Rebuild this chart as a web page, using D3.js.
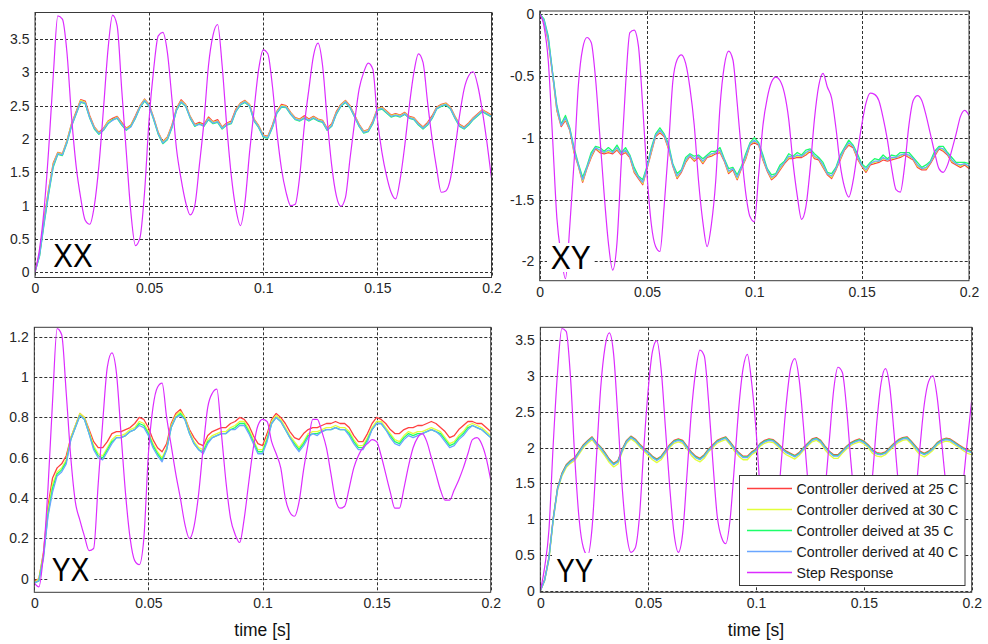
<!DOCTYPE html>
<html><head><meta charset="utf-8">
<script src="https://cdn.jsdelivr.net/npm/d3@7"></script>
<style>body{margin:0;background:#fff}svg{display:block}</style>
</head><body>
<svg id="chart" width="988" height="644"></svg>
<script>
// sample times (s), one sample every 2 ms from 0 to 0.2 s
const timeSamples = d3.range(101).map(i => i * 0.002);
const seriesNames = ["Controller derived at 25 C","Controller derived at 30 C","Controller deived at 35 C","Controller derived at 40 C","Step Response"];
const seriesColors = ["#ff4040","#e2ff3a","#1cff6a","#6aa6ff","#dc2cff"];
const xTicks = [0, 0.05, 0.1, 0.15, 0.2];
const xxTicks = [0,0.5,1,1.5,2,2.5,3,3.5];
const xyTicks = [-2,-1.5,-1,-0.5,0];
const yxTicks = [0,0.2,0.4,0.6,0.8,1,1.2];
const yyTicks = [0,0.5,1,1.5,2,2.5,3,3.5];
const panelNames = ["XX","XY","YX","YY"];

// ---- XX ----
const xx25 = [0.00,0.28,0.80,1.25,1.64,1.80,1.78,1.98,2.23,2.41,
2.59,2.57,2.35,2.18,2.10,2.16,2.27,2.31,2.34,2.25,
2.16,2.21,2.35,2.50,2.60,2.52,2.32,2.10,1.96,2.03,
2.21,2.46,2.59,2.52,2.34,2.22,2.25,2.22,2.33,2.26,
2.29,2.18,2.24,2.27,2.45,2.54,2.58,2.52,2.30,2.20,
2.06,2.04,2.21,2.42,2.52,2.50,2.40,2.32,2.30,2.35,
2.30,2.34,2.30,2.28,2.16,2.23,2.41,2.52,2.58,2.50,
2.36,2.22,2.12,2.14,2.27,2.46,2.48,2.42,2.36,2.38,
2.36,2.40,2.34,2.32,2.24,2.18,2.25,2.35,2.48,2.52,
2.54,2.48,2.34,2.22,2.18,2.24,2.32,2.38,2.44,2.40,2.36];
const xx30 = [0.00,0.27,0.78,1.23,1.62,1.79,1.77,1.97,2.22,2.39,
2.58,2.55,2.33,2.17,2.09,2.15,2.26,2.29,2.33,2.23,
2.15,2.20,2.33,2.49,2.59,2.51,2.31,2.09,1.95,2.02,
2.19,2.45,2.57,2.51,2.33,2.21,2.23,2.21,2.31,2.25,
2.27,2.17,2.23,2.25,2.43,2.53,2.57,2.51,2.29,2.19,
2.05,2.03,2.19,2.41,2.50,2.49,2.39,2.31,2.29,2.33,
2.29,2.33,2.29,2.27,2.15,2.21,2.39,2.51,2.57,2.49,
2.35,2.21,2.11,2.13,2.25,2.45,2.47,2.41,2.35,2.37,
2.35,2.39,2.33,2.31,2.23,2.17,2.23,2.33,2.47,2.51,
2.53,2.47,2.33,2.21,2.17,2.23,2.31,2.37,2.43,2.39,2.35];
const xx35 = [0.00,0.24,0.73,1.18,1.58,1.77,1.75,1.94,2.19,2.37,
2.55,2.53,2.31,2.15,2.07,2.13,2.23,2.29,2.31,2.21,
2.13,2.19,2.31,2.47,2.57,2.49,2.29,2.07,1.93,1.99,
2.17,2.43,2.55,2.49,2.31,2.19,2.23,2.19,2.29,2.23,
2.25,2.15,2.21,2.23,2.41,2.51,2.55,2.49,2.27,2.17,
2.03,2.01,2.17,2.39,2.48,2.47,2.37,2.29,2.27,2.31,
2.27,2.31,2.27,2.25,2.13,2.19,2.37,2.49,2.55,2.47,
2.33,2.19,2.09,2.11,2.23,2.43,2.45,2.39,2.33,2.35,
2.33,2.37,2.31,2.29,2.21,2.15,2.21,2.31,2.45,2.49,
2.51,2.45,2.31,2.19,2.15,2.21,2.29,2.35,2.41,2.37,2.33];
const xx40 = [0.00,0.25,0.75,1.20,1.60,1.78,1.76,1.95,2.20,2.38,
2.56,2.54,2.32,2.16,2.08,2.14,2.24,2.28,2.32,2.22,
2.14,2.18,2.32,2.48,2.58,2.50,2.30,2.08,1.94,2.00,
2.18,2.44,2.56,2.50,2.32,2.20,2.22,2.20,2.30,2.24,
2.26,2.16,2.22,2.24,2.42,2.52,2.56,2.50,2.28,2.18,
2.04,2.02,2.18,2.40,2.49,2.48,2.38,2.30,2.28,2.32,
2.28,2.32,2.28,2.26,2.14,2.20,2.38,2.50,2.56,2.48,
2.34,2.20,2.10,2.12,2.24,2.44,2.46,2.40,2.34,2.36,
2.34,2.38,2.32,2.30,2.22,2.16,2.22,2.32,2.46,2.50,
2.52,2.46,2.32,2.20,2.16,2.22,2.30,2.36,2.42,2.38,2.34];
const xxStep = [0.00,0.35,0.95,1.85,2.95,3.85,3.80,3.30,2.34,1.60,
1.12,0.78,0.72,1.00,1.60,2.45,3.35,3.86,3.70,2.74,
1.80,0.90,0.40,0.52,1.20,2.30,3.05,3.55,3.60,3.30,
2.60,1.85,1.40,1.05,0.86,1.00,1.60,2.25,3.10,3.56,
3.72,3.10,2.20,1.45,0.95,0.70,1.05,1.80,2.45,3.05,
3.34,3.28,2.80,2.10,1.55,1.20,1.00,1.02,1.45,2.20,
2.75,3.25,3.44,3.10,2.30,1.60,1.15,0.99,1.12,1.70,
2.25,2.75,3.00,3.14,3.05,2.30,1.80,1.45,1.20,1.10,
1.40,1.90,2.50,3.00,3.28,3.15,2.55,2.00,1.55,1.20,
1.22,1.40,1.85,2.35,2.75,2.95,3.01,2.80,2.42,1.95,1.41];

// ---- XY ----
const xy25 = [0.00,-0.06,-0.22,-0.49,-0.78,-0.91,-0.86,-0.94,-1.12,-1.23,
-1.36,-1.25,-1.16,-1.09,-1.12,-1.13,-1.12,-1.13,-1.10,-1.14,
-1.12,-1.16,-1.28,-1.33,-1.38,-1.25,-1.12,-0.99,-0.96,-0.99,
-1.09,-1.23,-1.33,-1.28,-1.20,-1.15,-1.19,-1.16,-1.21,-1.16,
-1.15,-1.13,-1.12,-1.19,-1.29,-1.26,-1.34,-1.25,-1.17,-1.06,
-1.04,-1.06,-1.18,-1.27,-1.34,-1.31,-1.26,-1.21,-1.17,-1.17,
-1.16,-1.16,-1.14,-1.11,-1.17,-1.18,-1.24,-1.30,-1.33,-1.26,
-1.18,-1.10,-1.06,-1.08,-1.17,-1.23,-1.28,-1.22,-1.21,-1.20,
-1.18,-1.19,-1.18,-1.17,-1.16,-1.14,-1.16,-1.18,-1.24,-1.26,
-1.26,-1.21,-1.15,-1.09,-1.11,-1.14,-1.20,-1.22,-1.24,-1.22,-1.25];
const xy30 = [0.00,-0.05,-0.21,-0.48,-0.77,-0.90,-0.85,-0.93,-1.11,-1.22,
-1.35,-1.24,-1.15,-1.08,-1.11,-1.12,-1.11,-1.12,-1.09,-1.13,
-1.11,-1.15,-1.27,-1.32,-1.37,-1.24,-1.11,-0.98,-0.95,-0.98,
-1.08,-1.22,-1.32,-1.27,-1.19,-1.14,-1.18,-1.15,-1.20,-1.15,
-1.14,-1.12,-1.11,-1.18,-1.28,-1.25,-1.33,-1.24,-1.16,-1.05,
-1.03,-1.05,-1.17,-1.26,-1.33,-1.30,-1.25,-1.20,-1.16,-1.16,
-1.15,-1.15,-1.13,-1.10,-1.16,-1.17,-1.23,-1.29,-1.32,-1.25,
-1.17,-1.09,-1.05,-1.07,-1.16,-1.22,-1.27,-1.21,-1.20,-1.19,
-1.17,-1.18,-1.17,-1.16,-1.15,-1.13,-1.15,-1.17,-1.23,-1.25,
-1.25,-1.20,-1.14,-1.08,-1.10,-1.13,-1.19,-1.21,-1.23,-1.21,-1.24];
const xy35 = [0.00,-0.04,-0.18,-0.47,-0.74,-0.89,-0.82,-0.92,-1.08,-1.21,
-1.32,-1.23,-1.12,-1.07,-1.08,-1.11,-1.08,-1.11,-1.06,-1.12,
-1.08,-1.14,-1.24,-1.31,-1.34,-1.23,-1.08,-0.97,-0.92,-0.97,
-1.05,-1.21,-1.29,-1.26,-1.16,-1.13,-1.15,-1.14,-1.17,-1.14,
-1.11,-1.11,-1.08,-1.17,-1.25,-1.24,-1.30,-1.23,-1.13,-1.04,
-1.00,-1.04,-1.14,-1.25,-1.30,-1.29,-1.22,-1.19,-1.13,-1.15,
-1.12,-1.14,-1.10,-1.09,-1.13,-1.16,-1.20,-1.28,-1.29,-1.24,
-1.14,-1.08,-1.02,-1.06,-1.13,-1.21,-1.24,-1.20,-1.17,-1.18,
-1.14,-1.17,-1.14,-1.15,-1.12,-1.12,-1.12,-1.16,-1.20,-1.24,
-1.22,-1.19,-1.11,-1.07,-1.07,-1.12,-1.16,-1.20,-1.20,-1.20,-1.21];
const xy40 = [0.00,-0.05,-0.20,-0.48,-0.76,-0.90,-0.84,-0.93,-1.10,-1.22,
-1.34,-1.24,-1.14,-1.08,-1.10,-1.12,-1.10,-1.12,-1.08,-1.13,
-1.10,-1.15,-1.26,-1.32,-1.36,-1.24,-1.10,-0.98,-0.94,-0.98,
-1.07,-1.22,-1.31,-1.27,-1.18,-1.14,-1.17,-1.15,-1.19,-1.15,
-1.13,-1.12,-1.10,-1.18,-1.27,-1.25,-1.32,-1.24,-1.15,-1.05,
-1.02,-1.05,-1.16,-1.26,-1.32,-1.30,-1.24,-1.20,-1.15,-1.16,
-1.14,-1.15,-1.12,-1.10,-1.15,-1.17,-1.22,-1.29,-1.31,-1.25,
-1.16,-1.09,-1.04,-1.07,-1.15,-1.22,-1.26,-1.21,-1.19,-1.19,
-1.16,-1.18,-1.16,-1.16,-1.14,-1.13,-1.14,-1.17,-1.22,-1.25,
-1.24,-1.20,-1.13,-1.08,-1.09,-1.13,-1.18,-1.21,-1.22,-1.21,-1.23];
const xyStep = [0.00,-0.10,-0.38,-1.00,-1.65,-1.95,-2.14,-1.72,-1.20,-0.58,
-0.28,-0.19,-0.23,-0.52,-0.98,-1.45,-1.85,-2.07,-1.85,-1.20,
-0.58,-0.15,-0.13,-0.26,-0.75,-1.30,-1.70,-1.88,-1.92,-1.55,
-1.08,-0.55,-0.37,-0.33,-0.40,-0.60,-0.90,-1.35,-1.68,-1.88,
-1.70,-1.35,-0.75,-0.42,-0.30,-0.37,-0.72,-1.12,-1.45,-1.64,
-1.68,-1.30,-0.90,-0.68,-0.55,-0.51,-0.54,-0.64,-0.85,-1.20,
-1.47,-1.66,-1.56,-1.25,-0.85,-0.58,-0.48,-0.59,-0.68,-0.92,
-1.22,-1.40,-1.48,-1.35,-1.12,-0.90,-0.72,-0.64,-0.65,-0.70,
-0.84,-1.02,-1.25,-1.42,-1.44,-1.23,-0.90,-0.70,-0.66,-0.70,
-0.82,-0.97,-1.12,-1.25,-1.28,-1.22,-1.10,-0.97,-0.83,-0.78,-0.82];

// ---- YX ----
const yx25 = [-0.01,0.00,0.13,0.36,0.50,0.55,0.57,0.61,0.70,0.76,
0.82,0.80,0.74,0.68,0.65,0.65,0.68,0.72,0.73,0.73,
0.74,0.75,0.77,0.80,0.79,0.75,0.69,0.65,0.63,0.67,
0.77,0.82,0.84,0.80,0.74,0.70,0.67,0.66,0.71,0.73,
0.74,0.75,0.75,0.77,0.78,0.80,0.79,0.76,0.71,0.67,
0.66,0.72,0.79,0.82,0.80,0.77,0.73,0.70,0.69,0.72,
0.74,0.75,0.75,0.76,0.77,0.77,0.78,0.77,0.77,0.75,
0.71,0.68,0.68,0.72,0.77,0.80,0.79,0.77,0.74,0.72,
0.72,0.74,0.75,0.75,0.76,0.76,0.77,0.78,0.77,0.75,
0.73,0.70,0.71,0.74,0.76,0.78,0.78,0.77,0.77,0.75,0.73];
const yx30 = [-0.02,0.00,0.12,0.34,0.47,0.53,0.55,0.59,0.70,0.76,
0.82,0.80,0.73,0.66,0.62,0.61,0.65,0.69,0.71,0.71,
0.72,0.74,0.75,0.78,0.77,0.73,0.67,0.63,0.60,0.65,
0.76,0.81,0.83,0.80,0.73,0.68,0.65,0.64,0.69,0.71,
0.72,0.73,0.73,0.75,0.76,0.78,0.78,0.74,0.69,0.64,
0.64,0.70,0.78,0.81,0.79,0.75,0.71,0.68,0.65,0.68,
0.72,0.73,0.73,0.74,0.75,0.75,0.76,0.75,0.75,0.73,
0.69,0.66,0.66,0.70,0.75,0.78,0.78,0.75,0.72,0.69,
0.68,0.71,0.73,0.72,0.73,0.73,0.74,0.75,0.74,0.73,
0.70,0.67,0.68,0.71,0.73,0.76,0.77,0.76,0.75,0.73,0.71];
const yx35 = [-0.02,-0.01,0.11,0.32,0.45,0.52,0.54,0.58,0.69,0.75,
0.81,0.79,0.72,0.65,0.61,0.60,0.64,0.68,0.70,0.70,
0.71,0.73,0.74,0.77,0.76,0.72,0.66,0.62,0.59,0.64,
0.75,0.80,0.82,0.79,0.72,0.67,0.64,0.63,0.68,0.70,
0.71,0.72,0.72,0.74,0.75,0.77,0.77,0.73,0.68,0.63,
0.63,0.69,0.77,0.80,0.78,0.74,0.70,0.67,0.64,0.67,
0.71,0.72,0.72,0.73,0.74,0.74,0.75,0.74,0.74,0.72,
0.68,0.65,0.65,0.69,0.74,0.77,0.77,0.74,0.71,0.68,
0.67,0.70,0.72,0.71,0.72,0.72,0.73,0.74,0.73,0.72,
0.69,0.66,0.67,0.70,0.72,0.75,0.76,0.75,0.74,0.72,0.70];
const yx40 = [-0.02,-0.01,0.10,0.31,0.43,0.51,0.53,0.57,0.69,0.75,
0.81,0.79,0.72,0.64,0.60,0.59,0.63,0.67,0.70,0.70,
0.71,0.73,0.74,0.76,0.75,0.71,0.65,0.61,0.58,0.64,
0.75,0.80,0.81,0.79,0.72,0.67,0.64,0.62,0.67,0.70,
0.71,0.72,0.72,0.74,0.74,0.76,0.76,0.72,0.67,0.62,
0.62,0.68,0.77,0.80,0.78,0.74,0.70,0.66,0.63,0.66,
0.70,0.72,0.71,0.73,0.74,0.74,0.75,0.74,0.74,0.71,
0.67,0.64,0.64,0.68,0.74,0.77,0.77,0.74,0.70,0.67,
0.66,0.69,0.71,0.70,0.71,0.72,0.73,0.74,0.73,0.71,
0.68,0.65,0.66,0.69,0.71,0.74,0.76,0.75,0.74,0.72,0.70];
const yxStep = [-0.02,-0.04,0.12,0.45,0.88,1.24,1.21,0.92,0.60,0.38,
0.29,0.21,0.14,0.15,0.47,0.78,1.05,1.12,1.02,0.72,
0.42,0.20,0.09,0.07,0.20,0.62,0.85,0.95,0.97,0.80,
0.66,0.52,0.40,0.27,0.20,0.26,0.42,0.65,0.85,0.92,
0.94,0.72,0.48,0.30,0.22,0.18,0.30,0.48,0.65,0.76,
0.79,0.78,0.68,0.62,0.55,0.40,0.33,0.31,0.38,0.54,
0.67,0.79,0.79,0.73,0.65,0.52,0.39,0.35,0.36,0.45,
0.55,0.61,0.65,0.67,0.69,0.68,0.61,0.52,0.43,0.35,
0.35,0.45,0.56,0.65,0.70,0.72,0.68,0.60,0.52,0.44,
0.39,0.39,0.44,0.49,0.55,0.62,0.69,0.70,0.67,0.60,0.49];

// ---- YY ----
const yy25 = [0.00,0.16,0.47,1.02,1.44,1.64,1.76,1.82,1.86,1.95,
2.04,2.10,2.15,2.07,2.01,1.93,1.84,1.78,1.82,1.98,
2.10,2.16,2.12,2.05,1.99,1.94,1.88,1.84,1.88,1.96,
2.04,2.10,2.12,2.10,2.02,1.94,1.88,1.85,1.90,1.98,
2.04,2.10,2.13,2.15,2.08,2.00,1.93,1.88,1.88,1.94,
1.98,2.06,2.10,2.12,2.11,2.06,2.00,1.95,1.92,1.89,
1.93,2.00,2.06,2.12,2.14,2.10,2.02,1.95,1.90,1.90,
1.96,2.02,2.07,2.10,2.12,2.09,2.04,1.97,1.93,1.92,
1.94,2.00,2.06,2.11,2.14,2.15,2.09,2.02,1.95,1.92,
1.95,2.00,2.07,2.11,2.13,2.12,2.08,2.04,2.00,1.97,1.95];
const yy30 = [0.00,0.14,0.43,0.98,1.40,1.60,1.72,1.78,1.82,1.91,
2.00,2.06,2.11,2.03,1.96,1.88,1.79,1.73,1.77,1.94,
2.06,2.12,2.08,2.01,1.95,1.89,1.83,1.79,1.83,1.92,
2.00,2.06,2.08,2.06,1.98,1.89,1.83,1.80,1.85,1.94,
2.00,2.06,2.09,2.11,2.04,1.95,1.88,1.83,1.83,1.90,
1.94,2.02,2.06,2.08,2.07,2.02,1.95,1.90,1.87,1.84,
1.89,1.96,2.02,2.08,2.10,2.06,1.97,1.90,1.85,1.85,
1.92,1.98,2.03,2.06,2.08,2.05,2.00,1.92,1.88,1.87,
1.90,1.96,2.02,2.07,2.10,2.11,2.05,1.97,1.90,1.87,
1.91,1.96,2.03,2.07,2.09,2.08,2.04,2.00,1.96,1.92,1.90];
const yy35 = [0.00,0.15,0.46,1.01,1.43,1.63,1.75,1.81,1.85,1.94,
2.03,2.09,2.14,2.06,2.00,1.92,1.83,1.77,1.81,1.97,
2.09,2.15,2.11,2.04,1.98,1.93,1.87,1.83,1.87,1.95,
2.03,2.09,2.11,2.09,2.01,1.93,1.87,1.84,1.89,1.97,
2.03,2.09,2.12,2.14,2.07,1.99,1.92,1.87,1.87,1.93,
1.97,2.05,2.09,2.11,2.10,2.05,1.99,1.94,1.91,1.88,
1.92,1.99,2.05,2.11,2.13,2.09,2.01,1.94,1.89,1.89,
1.95,2.01,2.06,2.09,2.11,2.08,2.03,1.96,1.92,1.91,
1.93,1.99,2.05,2.10,2.13,2.14,2.08,2.01,1.94,1.91,
1.94,1.99,2.06,2.10,2.12,2.11,2.07,2.03,1.99,1.96,1.94];
const yy40 = [0.00,0.15,0.45,1.00,1.42,1.62,1.74,1.80,1.84,1.93,
2.02,2.08,2.13,2.05,1.99,1.91,1.82,1.76,1.80,1.96,
2.08,2.14,2.10,2.03,1.97,1.92,1.86,1.82,1.86,1.94,
2.02,2.08,2.10,2.08,2.00,1.92,1.86,1.83,1.88,1.96,
2.02,2.08,2.11,2.13,2.06,1.98,1.91,1.86,1.86,1.92,
1.96,2.04,2.08,2.10,2.09,2.04,1.98,1.93,1.90,1.87,
1.91,1.98,2.04,2.10,2.12,2.08,2.00,1.93,1.88,1.88,
1.94,2.00,2.05,2.08,2.10,2.07,2.02,1.95,1.91,1.90,
1.92,1.98,2.04,2.09,2.12,2.13,2.07,2.00,1.93,1.90,
1.93,1.98,2.05,2.09,2.11,2.10,2.06,2.02,1.98,1.95,1.93];
const yyStep = [0.00,0.33,0.85,2.05,3.05,3.66,3.62,2.98,1.85,1.00,
0.60,0.50,0.88,1.85,2.83,3.40,3.60,3.30,2.40,1.43,
0.80,0.54,0.60,1.05,2.00,2.80,3.34,3.49,3.10,2.28,
1.45,0.80,0.54,0.80,1.62,2.48,3.06,3.36,3.28,2.65,
1.80,1.05,0.75,0.66,1.00,1.75,2.55,3.10,3.30,2.90,
2.25,1.40,0.95,0.78,0.78,1.20,1.90,2.60,3.10,3.24,
2.95,2.30,1.55,1.00,0.82,0.90,1.40,2.10,2.80,3.12,
3.05,2.55,1.80,1.20,0.90,0.86,1.10,1.60,2.35,2.90,
3.10,2.85,2.20,1.50,1.05,0.90,0.95,1.35,2.00,2.60,
2.92,3.00,2.70,2.10,1.50,1.10,0.95,1.05,1.50,2.10,2.66];

const FONT = "'Liberation Sans', Arial, Helvetica, sans-serif";
const panels = [
  {name: panelNames[0], l: 35, r: 491.5, t: 12.5, b: 277.5, yDom: [-0.08, 3.9], yTicks: xxTicks,
   series: [xx25, xx30, xx35, xx40, xxStep], lab: {x: 53.3, y: 266.7, w: 39.3, box: [50, 240, 46, 30]}, xlabel: false, legend: false},
  {name: panelNames[1], l: 539.7, r: 969, t: 11, b: 280.7, yDom: [-2.156, 0.024], yTicks: xyTicks,
   series: [xy25, xy30, xy35, xy40, xyStep], lab: {x: 550.7, y: 269.3, w: 40, box: [547, 243, 47, 29]}, xlabel: false, legend: false},
  {name: panelNames[2], l: 34.3, r: 490.7, t: 327.3, b: 592.3, yDom: [-0.067, 1.247], yTicks: yxTicks,
   series: [yx25, yx30, yx35, yx40, yxStep], lab: {x: 51.7, y: 580.7, w: 37.7, box: [48, 554, 45, 29]}, xlabel: true, legend: false},
  {name: panelNames[3], l: 540.3, r: 971.7, t: 327.3, b: 592.3, yDom: [-0.018, 3.677], yTicks: yyTicks,
   series: [yy25, yy30, yy35, yy40, yyStep], lab: {x: 556.3, y: 581.7, w: 37, box: [552, 553, 45, 31]}, xlabel: true, legend: true}
];

const svg = d3.select("#chart");
svg.append("rect").attr("width", 988).attr("height", 644).attr("fill", "#fff");
const fmt = v => String(+v.toFixed(3)).replace("\u2212", "-");

panels.forEach((p, pi) => {
  const x = d3.scaleLinear().domain([0, 0.2]).range([p.l, p.r]);
  const y = d3.scaleLinear().domain(p.yDom).range([p.b, p.t]);
  const g = svg.append("g");
  const clipId = "clip" + pi;
  g.append("clipPath").attr("id", clipId).append("rect")
    .attr("x", p.l).attr("y", p.t).attr("width", p.r - p.l).attr("height", p.b - p.t);

  // grid
  const grid = g.append("g").attr("stroke", "#1a1a1a").attr("stroke-width", 0.9)
    .attr("stroke-dasharray", "3,2").attr("fill", "none");
  p.yTicks.forEach(v => {
    grid.append("line").attr("x1", p.l).attr("x2", p.r)
      .attr("y1", Math.round(y(v)) + 0.5).attr("y2", Math.round(y(v)) + 0.5);
  });
  xTicks.forEach(v => {
    grid.append("line").attr("y1", p.t).attr("y2", p.b)
      .attr("x1", Math.round(x(v)) + 0.5).attr("x2", Math.round(x(v)) + 0.5);
  });

  // series
  const line = d3.line().x((d, i) => x(timeSamples[i])).y(d => y(d));
  const smoothLine = d3.line().x((d, i) => x(timeSamples[i])).y(d => y(d)).curve(d3.curveMonotoneX);
  const lg = g.append("g").attr("clip-path", `url(#${clipId})`);
  p.series.forEach((s, si) => {
    lg.append("path").datum(s).attr("d", si === 4 ? smoothLine : line).attr("fill", "none")
      .attr("stroke", seriesColors[si]).attr("stroke-width", si === 4 ? 1.2 : 1.3)
      .attr("stroke-linejoin", "round");
  });

  // axes box
  g.append("rect").attr("x", p.l).attr("y", p.t).attr("width", p.r - p.l).attr("height", p.b - p.t)
    .attr("fill", "none").attr("stroke", "#3a3a3a").attr("stroke-width", 1);

  // y tick labels
  const yAx = d3.axisLeft(y).tickValues(p.yTicks).tickFormat(fmt).tickSize(0).tickPadding(5.5);
  const ya = g.append("g").attr("transform", `translate(${p.l},0)`).call(yAx);
  ya.select(".domain").remove();
  ya.selectAll("text").attr("font-family", FONT).attr("font-size", 14).attr("fill", "#262626");

  // x tick labels
  const xAx = d3.axisBottom(x).tickValues(xTicks).tickFormat(fmt).tickSize(0).tickPadding(6);
  const xa = g.append("g").attr("transform", `translate(0,${p.b})`).call(xAx);
  xa.select(".domain").remove();
  xa.selectAll("text").attr("font-family", FONT).attr("font-size", 14).attr("fill", "#262626");

  if (p.xlabel) {
    g.append("text").attr("x", (p.l + p.r) / 2).attr("y", 635.5).attr("text-anchor", "middle")
      .attr("font-family", FONT).attr("font-size", 17.5).attr("fill", "#111").text("time [s]");
  }

  // panel label with white background
  g.append("rect").attr("x", p.lab.box[0]).attr("y", p.lab.box[1])
    .attr("width", p.lab.box[2]).attr("height", p.lab.box[3]).attr("fill", "#fff");
  g.append("text").attr("x", p.lab.x).attr("y", p.lab.y)
    .attr("font-family", FONT).attr("font-size", 32.5).attr("fill", "#000")
    .attr("textLength", p.lab.w).attr("lengthAdjust", "spacingAndGlyphs").text(p.name);

  if (p.legend) {
    const leg = g.append("g");
    leg.append("rect").attr("x", 739.5).attr("y", 475.5).attr("width", 225.5).attr("height", 110)
      .attr("fill", "#fff").attr("stroke", "#3a3a3a").attr("stroke-width", 1);
    seriesNames.forEach((n, i) => {
      const ry = 488.5 + i * 21;
      leg.append("line").attr("x1", 747).attr("x2", 792).attr("y1", ry).attr("y2", ry)
        .attr("stroke", seriesColors[i]).attr("stroke-width", 1.5);
      leg.append("text").attr("x", 796.5).attr("y", ry + 5).attr("font-family", FONT)
        .attr("font-size", 14.2).attr("fill", "#1a1a1a").text(n);
    });
  }
});
</script>
</body></html>
